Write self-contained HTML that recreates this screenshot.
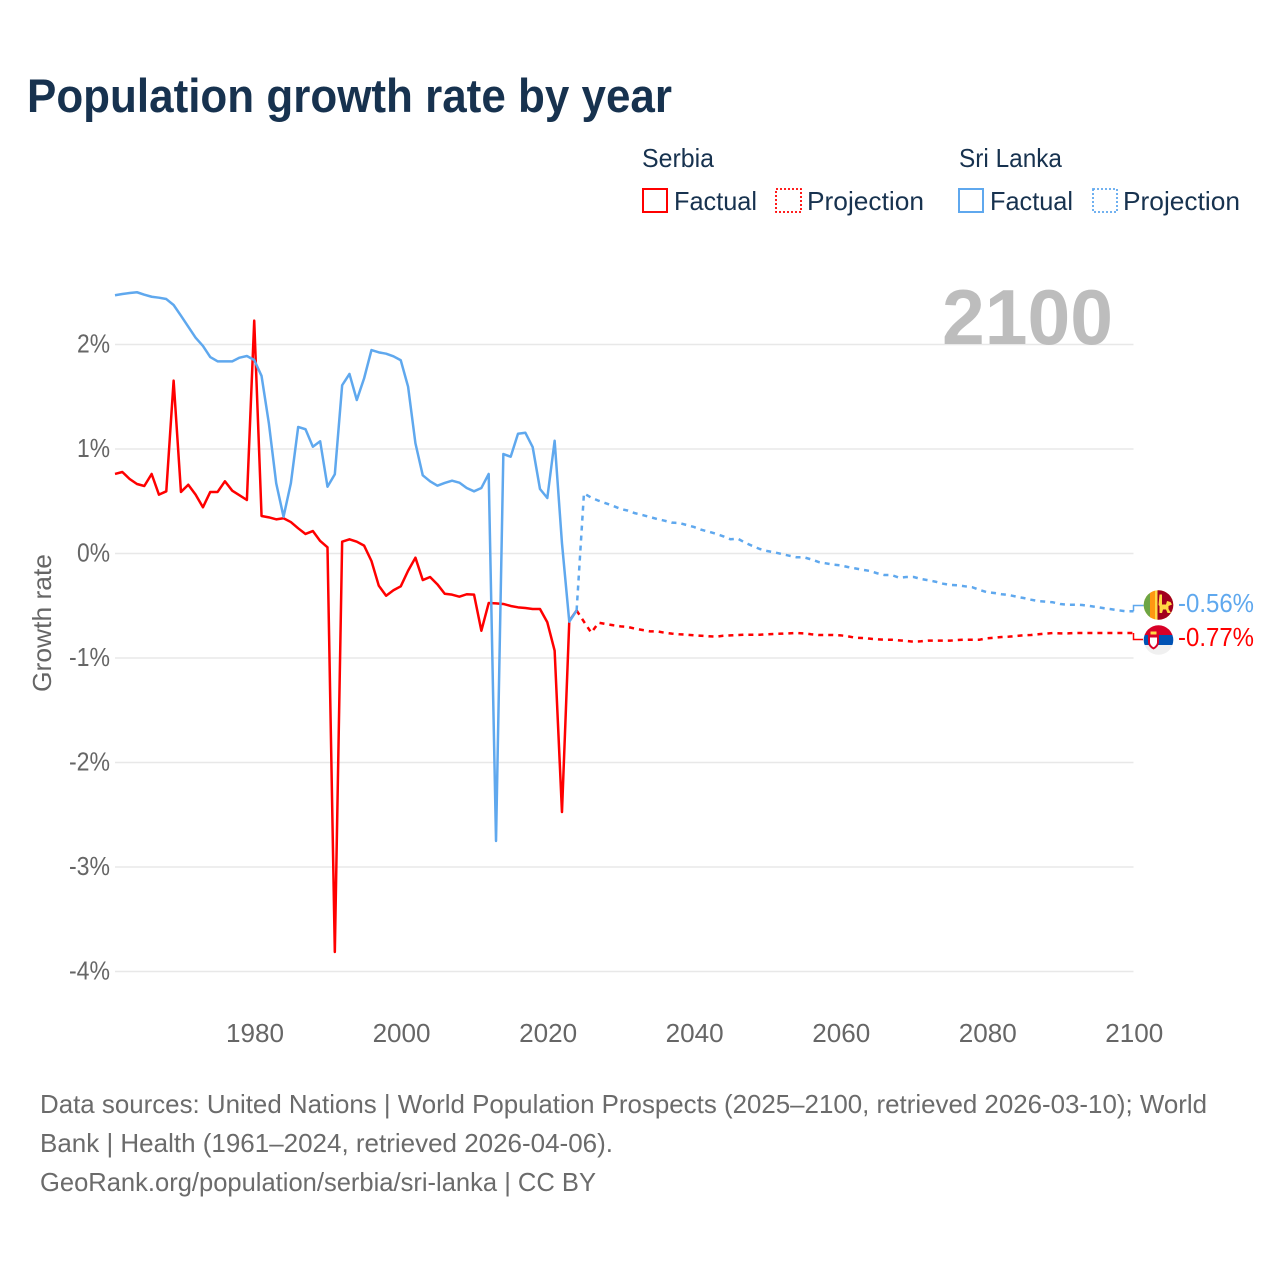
<!DOCTYPE html>
<html lang="en">
<head>
<meta charset="utf-8">
<title>Population growth rate by year</title>
<style>
html,body{margin:0;padding:0;background:#fff;}
svg{display:block;font-family:"Liberation Sans",sans-serif;}
</style>
</head>
<body>
<svg id="chart" width="1280" height="1280" viewBox="0 0 1280 1280" xmlns="http://www.w3.org/2000/svg">
  <rect x="0" y="0" width="1280" height="1280" fill="#ffffff"/>
  <text x="27" y="112" font-size="47" font-weight="700" fill="#17324f" textLength="645" lengthAdjust="spacingAndGlyphs">Population growth rate by year</text>

  <g font-size="26" fill="#17324f">
    <text x="642" y="167" textLength="72" lengthAdjust="spacingAndGlyphs">Serbia</text>
    <text x="959" y="167" textLength="103" lengthAdjust="spacingAndGlyphs">Sri Lanka</text>
    <rect x="643" y="189" width="24" height="23" fill="none" stroke="#ff0000" stroke-width="2"/>
    <text x="674" y="210" textLength="83" lengthAdjust="spacingAndGlyphs">Factual</text>
    <rect x="776" y="189" width="25" height="23" fill="none" stroke="#ff0000" stroke-width="1.8" stroke-dasharray="2 2"/>
    <text x="807" y="210" textLength="117" lengthAdjust="spacingAndGlyphs">Projection</text>
    <rect x="959" y="189" width="24" height="23" fill="none" stroke="#5fa8ee" stroke-width="2"/>
    <text x="990" y="210" textLength="83" lengthAdjust="spacingAndGlyphs">Factual</text>
    <rect x="1093" y="189" width="24" height="23" fill="none" stroke="#5fa8ee" stroke-width="1.8" stroke-dasharray="2 2"/>
    <text x="1123" y="210" textLength="117" lengthAdjust="spacingAndGlyphs">Projection</text>
  </g>

  <g id="grid"></g>
  <text x="942" y="344" font-size="78" font-weight="700" fill="#bdbdbd" textLength="171" lengthAdjust="spacingAndGlyphs">2100</text>
  <g id="yticks" font-size="26" fill="#666666"></g>
  <g id="xticks" font-size="26" fill="#666666"></g>
  <text transform="translate(51,692) rotate(-90)" font-size="26" fill="#666666" textLength="138" lengthAdjust="spacingAndGlyphs">Growth rate</text>
  <g id="series"></g>

  <defs>
    <clipPath id="clip-lk"><circle cx="1158.5" cy="605" r="14.8"/></clipPath>
    <clipPath id="clip-rs"><circle cx="1158.5" cy="640" r="14.8"/></clipPath>
  </defs>
  <g clip-path="url(#clip-lk)">
    <rect x="1143" y="590" width="31" height="30" fill="#ffda44"/>
    <rect x="1143" y="590" width="7" height="30" fill="#6da544"/>
    <rect x="1150" y="590" width="5" height="30" fill="#ff9811"/>
    <rect x="1157.500" y="590" width="17" height="30" fill="#a2001d"/>
    <path d="M1159.500 594.500h2.500v10h4l1-3.500 3.500 1 1.500 2.500-3.500 1.500v3l2.500 4h-3.500l-1.500-3.500h-3l-1 3.500h-2.500v-7l-1-1z" fill="#ffda44"/>
  </g>
  <g clip-path="url(#clip-rs)">
    <rect x="1143" y="625" width="31" height="10" fill="#d80027"/>
    <rect x="1143" y="635" width="31" height="10" fill="#0052b4"/>
    <rect x="1143" y="645" width="31" height="10" fill="#f0f0f0"/>
    <path d="M1148 635h11v7c0 3.500-2.500 6-5.500 7.500-3-1.500-5.500-4-5.500-7.500z" fill="#d80027"/>
    <path d="M1150 637.500h7v4.500c0 2.500-1.700 4.200-3.500 5.300-1.800-1.100-3.500-2.800-3.500-5.300z" fill="#ffffff"/>
    <rect x="1150.500" y="631.500" width="6" height="3" fill="#ffda44"/>
  </g>
  <g id="endlabels" font-size="26"></g>

  <g font-size="26" fill="#6b6b6b">
    <text x="40" y="1113" textLength="1167" lengthAdjust="spacingAndGlyphs">Data sources: United Nations | World Population Prospects (2025–2100, retrieved 2026-03-10); World</text>
    <text x="40" y="1152" textLength="573" lengthAdjust="spacingAndGlyphs">Bank | Health (1961–2024, retrieved 2026-04-06).</text>
    <text x="40" y="1191" textLength="556" lengthAdjust="spacingAndGlyphs">GeoRank.org/population/serbia/sri-lanka | CC BY</text>
  </g>
</svg>
<script>
const factualStartYear = 1961;
const projectionStartYear = 2024;
const xTickYears = [1980, 2000, 2020, 2040, 2060, 2080, 2100];
const yTickValues = [2, 1, 0, -1, -2, -3, -4];
const serbiaFactual = [
  0.761,0.780,0.713,0.665,0.646,0.761,0.563,0.595,1.654,
  0.589,0.658,0.563,0.442,0.589,0.589,0.691,0.601,0.557,0.512,
  2.228,0.359,0.346,0.327,0.337,0.301,0.241,0.187,0.215,0.120,
  0.059,-3.813,0.113,0.136,0.113,0.075,-0.072,-0.308,-0.404,-0.352,
  -0.314,-0.165,-0.040,-0.254,-0.225,-0.295,-0.385,-0.394,-0.413,-0.390,
  -0.394,-0.739,-0.474,-0.477,-0.483,-0.502,-0.515,-0.522,-0.531,-0.531,
  -0.658,-0.930,-2.474,-0.646,-0.545
];
const serbiaProjection = [
  -0.545,-0.653,-0.758,-0.662,-0.675,-0.687,
  -0.697,-0.703,-0.720,-0.732,-0.745,-0.745,-0.758,-0.767,-0.773,-0.777,
  -0.783,-0.787,-0.792,-0.796,-0.787,-0.783,-0.780,-0.777,-0.777,-0.777,
  -0.773,-0.770,-0.767,-0.764,-0.761,-0.764,-0.773,-0.780,-0.780,-0.780,
  -0.783,-0.792,-0.806,-0.809,-0.815,-0.821,-0.825,-0.825,-0.831,-0.837,
  -0.844,-0.840,-0.834,-0.834,-0.834,-0.834,-0.828,-0.825,-0.825,-0.825,
  -0.811,-0.806,-0.799,-0.796,-0.789,-0.783,-0.780,-0.773,-0.767,-0.761,
  -0.764,-0.764,-0.761,-0.761,-0.761,-0.761,-0.761,-0.761,-0.761,-0.761,-0.761
];
const sriLankaFactual = [
  2.471,2.483,2.493,2.500,2.477,2.457,2.448,2.435,2.378,
  2.276,2.170,2.065,1.986,1.880,1.839,1.839,1.839,1.874,1.890,
  1.852,1.699,1.246,0.672,0.352,0.672,1.211,1.189,1.022,1.074,
  0.639,0.758,1.610,1.718,1.469,1.677,1.947,1.925,1.912,1.887,
  1.849,1.596,1.055,0.748,0.691,0.649,0.675,0.697,0.678,0.627,
  0.595,0.627,0.761,-2.751,0.952,0.926,1.146,1.156,1.019,0.617,
  0.531,1.079,0.098,-0.653,-0.545
];
const sriLankaProjection = [
  -0.545,0.576,0.534,0.505,0.480,0.455,
  0.426,0.410,0.385,0.368,0.349,0.330,0.314,0.295,0.292,0.273,
  0.254,0.228,0.209,0.189,0.165,0.136,0.142,0.103,0.072,0.043,
  0.024,0.011,-0.005,-0.021,-0.036,-0.036,-0.056,-0.081,-0.094,-0.107,
  -0.113,-0.129,-0.142,-0.155,-0.167,-0.189,-0.206,-0.206,-0.232,-0.225,
  -0.225,-0.244,-0.256,-0.270,-0.289,-0.301,-0.304,-0.314,-0.323,-0.349,
  -0.371,-0.378,-0.390,-0.397,-0.413,-0.426,-0.442,-0.455,-0.461,-0.467,
  -0.483,-0.490,-0.490,-0.493,-0.502,-0.512,-0.524,-0.534,-0.544,-0.553,-0.553
];
const endLabelSerbia = "-0.77%";
const endLabelSriLanka = "-0.56%";

const NS = "http://www.w3.org/2000/svg";
function xScale(year){ return 115 + (year - 1961) * (1133.5 - 115) / 139; }
function yScale(v){ return 553.5 - v * 104.5; }
function linePath(startYear, values){
  return values.map(function(v, i){
    return (i ? "L" : "M") + xScale(startYear + i).toFixed(2) + " " + yScale(v).toFixed(2);
  }).join("");
}
function make(tag, parent, attrs, text){
  const el = document.createElementNS(NS, tag);
  Object.keys(attrs).forEach(function(k){ el.setAttribute(k, attrs[k]); });
  if (text !== undefined) el.textContent = text;
  parent.appendChild(el);
  return el;
}
const gridG = document.getElementById("grid");
const yG = document.getElementById("yticks");
const xG = document.getElementById("xticks");
const seriesG = document.getElementById("series");
const endG = document.getElementById("endlabels");

yTickValues.forEach(function(v){
  const line = make("line", gridG, {x1:115, x2:1133.5, y1:yScale(v), y2:yScale(v), stroke:"#e8e8e8", "stroke-width":1.5});
  
  
  const label = make("text", yG, {x:110, y:yScale(v) + 8, "text-anchor":"end", textLength: v < 0 ? 41 : 33, lengthAdjust:"spacingAndGlyphs"}, v + "%");
  
  
});
xTickYears.forEach(function(y){
  const label = make("text", xG, {x:xScale(y) + 0.8, y:1042, "text-anchor":"middle", textLength:58, lengthAdjust:"spacingAndGlyphs"}, String(y));
  
  
});

const RED = "#ff0000";
const BLUE = "#5fa8ee";
const lineBase = {fill:"none", "stroke-width":2.5, "stroke-linejoin":"round"};

const pRedFact = make("path", seriesG, Object.assign({d:linePath(factualStartYear, serbiaFactual), stroke:RED}, lineBase));


const pRedProj = make("path", seriesG, Object.assign({d:linePath(projectionStartYear, serbiaProjection), stroke:RED, "stroke-dasharray":"5 5"}, lineBase));


const pBlueFact = make("path", seriesG, Object.assign({d:linePath(factualStartYear, sriLankaFactual), stroke:BLUE}, lineBase));


const pBlueProj = make("path", seriesG, Object.assign({d:linePath(projectionStartYear, sriLankaProjection), stroke:BLUE, "stroke-dasharray":"5 5"}, lineBase));



const lastX = xScale(2100);
const lastRed = yScale(serbiaProjection[serbiaProjection.length - 1]);
const lastBlue = yScale(sriLankaProjection[sriLankaProjection.length - 1]);
const conRed = make("path", seriesG, {d:"M" + lastX + " " + lastRed + "V639.5H1143", fill:"none", stroke:RED, "stroke-width":1.5});


const conBlue = make("path", seriesG, {d:"M" + lastX + " " + lastBlue + "V605.5H1145", fill:"none", stroke:BLUE, "stroke-width":1.5});



const lblBlue = make("text", endG, {x:1178, y:lastBlue + 0.5, fill:BLUE, textLength:76, lengthAdjust:"spacingAndGlyphs"}, endLabelSriLanka);


const lblRed = make("text", endG, {x:1178, y:lastRed + 13, fill:RED, textLength:76, lengthAdjust:"spacingAndGlyphs"}, endLabelSerbia);


</script>
</body>
</html>
